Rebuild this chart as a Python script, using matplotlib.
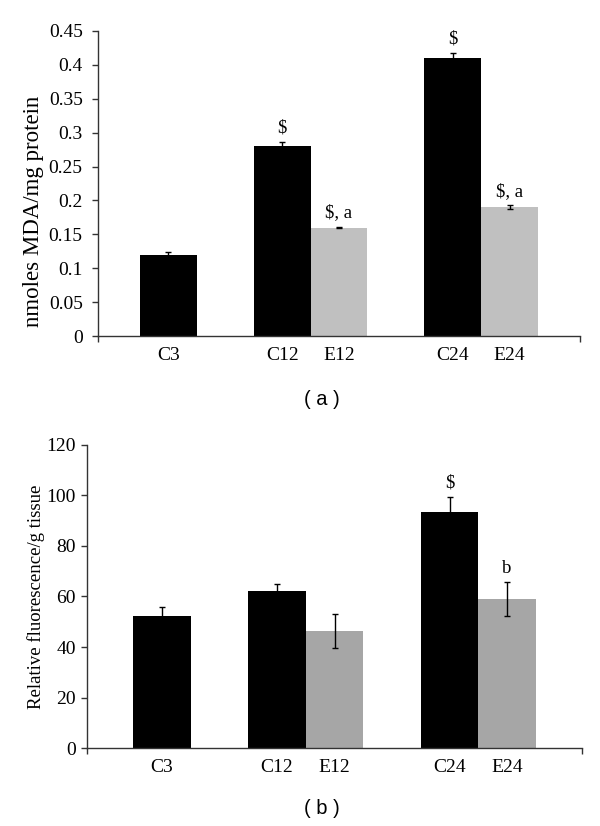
import matplotlib
matplotlib.use('Agg')
import matplotlib.pyplot as plt

# categories (C3 has no E partner, so the slots after C3 and E12 stay empty)
labels = ['C3', 'C12', 'E12', 'C24', 'E24']
slots = [0, 2, 3, 5, 6]

# panel a: MDA
mda = [0.12, 0.28, 0.16, 0.41, 0.19]
mda_err = [0.004, 0.006, 0.001, 0.008, 0.003]
mda_marks = ['', '$', '$, a', '$', '$, a']

# panel b: fluorescence
fluo = [52.4, 62.3, 46.4, 93.3, 58.9]
fluo_err = [3.6, 2.6, 6.8, 6.0, 6.7]
fluo_marks = ['', '', '', '$', 'b']

plt.rcParams['font.family'] = 'Liberation Serif'


def panel(ax, vals, errs, marks, grey, ylim, step, fmt, xpad, ypad):
    cols = ['black' if l.startswith('C') else grey for l in labels]
    ax.bar(slots, vals, width=1.0, color=cols, linewidth=0)
    ax.errorbar(slots, vals, yerr=errs, fmt='none', ecolor='black',
                elinewidth=1, capsize=2.5, capthick=1)
    for x, v, e, m in zip(slots, vals, errs, marks):
        if m:
            ax.annotate(m, (x, v + e), xytext=(0, 4), textcoords='offset points',
                        ha='center', va='bottom', fontsize=13.5)
    ax.set_xlim(slots[0] - xpad, slots[-1] + xpad)
    ax.set_ylim(0, ylim)
    ticks = [i * step for i in range(int(round(ylim / step)) + 1)]
    ax.set_yticks(ticks)
    ax.set_yticklabels([fmt(t) for t in ticks], fontsize=14)
    ax.set_xticks(slots)
    ax.set_xticklabels(labels, fontsize=14)
    ax.tick_params(axis='x', length=0, pad=8)
    ax.tick_params(axis='y', length=4, width=1, color='#333333', pad=ypad)
    ax.set_xticks([slots[0] - xpad, slots[-1] + xpad], minor=True)
    ax.tick_params(axis='x', which='minor', length=4, width=1, color='#333333')
    for s in ['top', 'right']:
        ax.spines[s].set_visible(False)
    for s in ['left', 'bottom']:
        ax.spines[s].set_color('#333333')
        ax.spines[s].set_linewidth(1)


def fmt_a(t):
    s = ('%.2f' % t).rstrip('0').rstrip('.')
    return s if s else '0'


fig = plt.figure(figsize=(6, 8.26), dpi=100)
ax1 = fig.add_axes([0.1633, 0.5932, 0.8034, 0.3693])
ax2 = fig.add_axes([0.145, 0.0944, 0.825, 0.3669])

panel(ax1, mda, mda_err, mda_marks, '#c0c0c0', 0.45, 0.05, fmt_a, 1.24, 7)
panel(ax2, fluo, fluo_err, fluo_marks, '#a6a6a6', 120, 20,
      lambda t: '%d' % t, 1.3, 4)

ax1.set_ylabel('nmoles MDA/mg protein', fontsize=16.5)
ax1.yaxis.set_label_coords(-0.112, 0.408)
ax2.set_ylabel('Relative fluorescence/g tissue', fontsize=13.5)
ax2.yaxis.set_label_coords(-0.085, 0.5)

fig.text(0.537, 1 - 399 / 826, '( a )', ha='center', va='center',
         fontsize=14.5, family='Liberation Sans')
fig.text(0.537, 1 - 808 / 826, '( b )', ha='center', va='center',
         fontsize=14.5, family='Liberation Sans')

fig.savefig('out.png', dpi=100)
